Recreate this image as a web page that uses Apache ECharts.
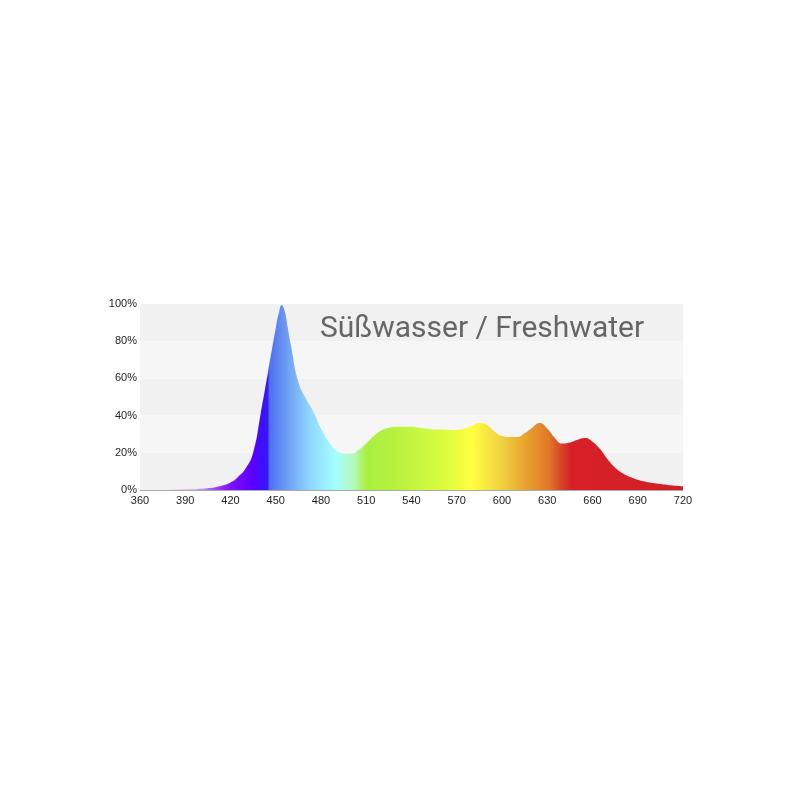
<!DOCTYPE html>
<html>
<head>
<meta charset="utf-8">
<script src="https://cdn.jsdelivr.net/npm/echarts@6/dist/echarts.min.js"></script>
<style>
  html, body { margin: 0; padding: 0; background: #fff; }
  #chart { width: 800px; height: 800px; }
</style>
</head>
<body>
<div id="chart"></div>
<script>
// wavelength (nm) and relative intensity (%)
const wavelengths = [360, 365, 370, 375, 380, 385, 390, 395, 400, 405, 410, 415, 420, 425, 430, 435, 440, 445, 450, 452, 454, 456, 458, 460, 465, 470, 475, 480, 485, 490, 495, 500, 505, 510, 515, 520, 525, 530, 535, 540, 545, 550, 555, 560, 565, 570, 575, 580, 585, 590, 595, 600, 605, 610, 615, 620, 625, 630, 635, 640, 645, 650, 655, 660, 665, 670, 675, 680, 685, 690, 695, 700, 705, 710, 715, 720]
const intensity = [0, 0, 0, 0, 0.2, 0.3, 0.4, 0.5, 0.7, 1.0, 1.5, 2.5, 4, 7, 11.5, 20, 41, 64, 87, 95, 99.5, 96, 87, 78, 58, 49, 42, 33, 26, 21.5, 19.5, 19.5, 21.5, 25, 29, 32, 33.5, 34, 34, 34, 33.5, 33, 32.5, 32.5, 32.3, 32.3, 33, 34.5, 36, 35, 31.5, 29, 28.5, 28.5, 30.5, 33.5, 36, 33, 28, 25, 25.5, 27, 28, 26, 22, 16.5, 12, 9, 7, 5.5, 4.5, 3.8, 3.2, 2.7, 2.3, 2]
const xTicks = { min: 360, max: 720, step: 30 }
const yTicks = { min: 0, max: 100, step: 20 }

// spectrum colours by wavelength
const spectrumNm = [360, 395, 410, 420, 435, 442, 444.5, 446, 458, 473, 490, 502, 510, 525, 560, 580, 600, 617, 631, 641, 646, 720]
const spectrumColors = ['#f4e6f8', '#e0b8f4', '#a040ff', '#8010ff', '#5a00ff', '#3a10ff', '#3818f8', '#5070f0', '#70a0f4', '#90d8ff', '#a4ffff', '#b4f8b8', '#a8f040', '#b4f040', '#d8fc40', '#ffff40', '#f0d040', '#e8a030', '#e07828', '#d83a28', '#d82028', '#d02024']

const stops = spectrumNm.map((nm, i) => ({
  offset: (nm - xTicks.min) / (xTicks.max - xTicks.min),
  color: spectrumColors[i]
}))

const chart = echarts.init(document.getElementById('chart'))
chart.setOption({
  backgroundColor: '#fff',
  animation: false,
  title: {
    text: 'Süßwasser / Freshwater',
    left: 315,
    top: 309,
    textStyle: { fontFamily: 'Roboto', fontSize: 30, fontWeight: 'normal', color: '#666' }
  },
  grid: { left: 140, right: 117, top: 304, bottom: 310 },
  xAxis: {
    type: 'value',
    min: xTicks.min,
    max: xTicks.max,
    interval: xTicks.step,
    axisLine: { lineStyle: { color: '#aaa', width: 1 } },
    axisTick: { show: false },
    splitLine: { show: false },
    axisLabel: { color: '#222', fontSize: 11, fontFamily: 'Liberation Sans', margin: 5 }
  },
  yAxis: {
    type: 'value',
    min: yTicks.min,
    max: yTicks.max,
    interval: yTicks.step,
    axisLine: { show: false },
    axisTick: { show: false },
    splitLine: { show: false },
    splitArea: { show: true, areaStyle: { color: ['#f1f1f1', '#f6f6f6'] } },
    axisLabel: { color: '#222', fontSize: 11, fontFamily: 'Liberation Sans', margin: 3, formatter: '{value}%' }
  },
  series: [{
    type: 'line',
    data: wavelengths.map((nm, i) => [nm, intensity[i]]),
    smooth: 0.5,
    showSymbol: false,
    lineStyle: { width: 0 },
    areaStyle: {
      opacity: 1,
      color: new echarts.graphic.LinearGradient(0, 0, 1, 0, stops)
    }
  }]
})
window.addEventListener('resize', () => chart.resize())
</script>
</body>
</html>
